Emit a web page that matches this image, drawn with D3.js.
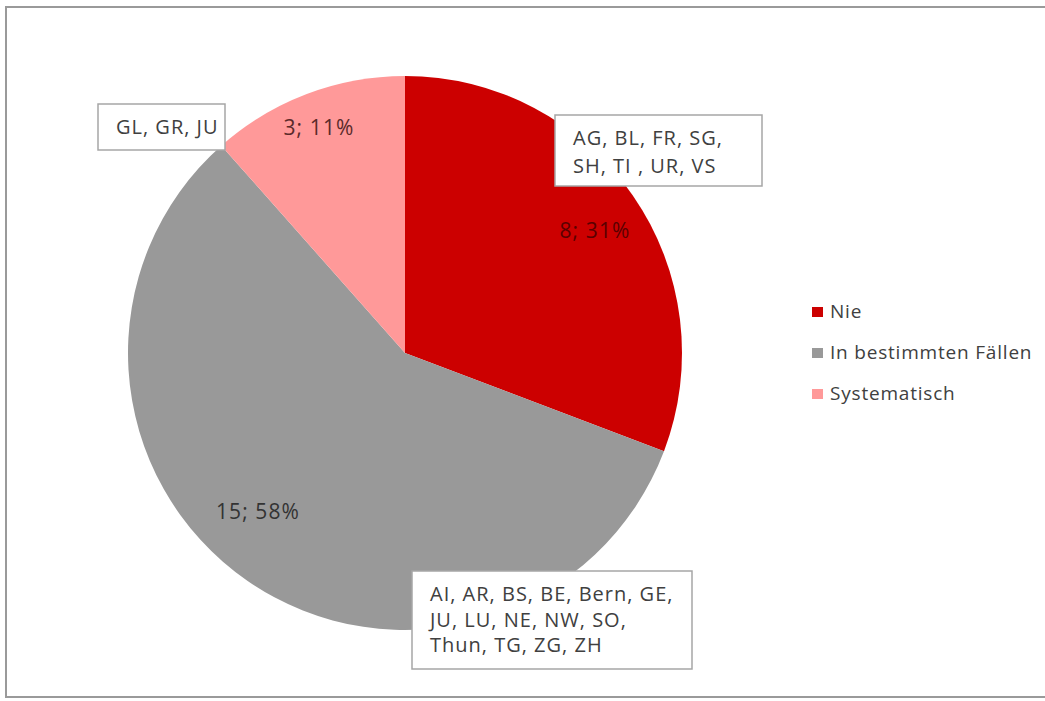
<!DOCTYPE html>
<html><head><meta charset="utf-8">
<script src="https://cdn.jsdelivr.net/npm/d3@7"></script>
<style>body{margin:0;background:#fff;} svg{display:block;}</style>
</head><body>
<svg id="c" width="1045" height="701"></svg>
<script>
const categories = ["Nie", "In bestimmten Fällen", "Systematisch"];
const values = [8, 15, 3];
const percents = ["31%", "58%", "11%"];
const cantons = [
  ["AG, BL, FR, SG,", "SH, TI , UR, VS"],
  ["AI, AR, BS, BE, Bern, GE,", "JU, LU, NE, NW, SO,", "Thun, TG, ZG, ZH"],
  ["GL, GR, JU"]
];
const colors = ["#cc0000", "#999999", "#ff9999"];

const svg = d3.select("#c");
const font = "'Open Sans', 'Noto Sans', sans-serif";

// outer frame
svg.append("rect").attr("x", 6).attr("y", 7).attr("width", 1100).attr("height", 690)
  .attr("fill", "none").attr("stroke", "#9a9a9a").attr("stroke-width", 2);

const cx = 405, cy = 353, r = 277;
const pie = d3.pie().sort(null).value(d => d)(values);
const arc = d3.arc().innerRadius(0).outerRadius(r);
const g = svg.append("g").attr("transform", `translate(${cx},${cy})`);
g.selectAll("path").data(pie).join("path").attr("d", arc).attr("fill", (d,i) => colors[i]);

// value labels
const valPos = [[595, 238], [258, 519], [319, 135]];
const valColor = ["#5a0000", "#333", "#5a2a2a"];
svg.selectAll("text.val").data(pie).join("text").attr("class","val")
  .attr("x", (d,i) => valPos[i][0]).attr("y", (d,i) => valPos[i][1])
  .attr("text-anchor", "middle").attr("font-family", font).attr("font-size", 21)
  .attr("letter-spacing", 1.1)
  .attr("fill", (d,i) => valColor[i])
  .text((d,i) => values[i] + "; " + percents[i]);

// canton boxes
const boxes = [
  {x: 555, y: 115, w: 207, h: 71, lh: 28},
  {x: 412, y: 571, w: 280, h: 98, lh: 25.5},
  {x: 98, y: 104, w: 127, h: 46, lh: 26}
];
boxes.forEach((b, i) => {
  svg.append("rect").attr("x", b.x).attr("y", b.y).attr("width", b.w).attr("height", b.h)
    .attr("fill", "#fff").attr("stroke", "#a6a6a6").attr("stroke-width", 1.5);
  const t = svg.append("text").attr("font-family", font).attr("font-size", 20)
    .attr("letter-spacing", 1).attr("fill", "#404040");
  cantons[i].forEach((line, j) => {
    t.append("tspan").attr("x", b.x + 18).attr("y", b.y + 30 + j * b.lh).text(line);
  });
});

// legend
const leg = svg.append("g");
categories.forEach((c, i) => {
  const y = 312 + i * 41;
  leg.append("rect").attr("x", 812).attr("y", y - 5).attr("width", 11).attr("height", 10).attr("fill", colors[i]);
  leg.append("text").attr("x", 830).attr("y", y + 6).attr("font-family", font).attr("font-size", 19)
    .attr("letter-spacing", 0.8).attr("fill", "#404040").text(c);
});
</script>
</body></html>
